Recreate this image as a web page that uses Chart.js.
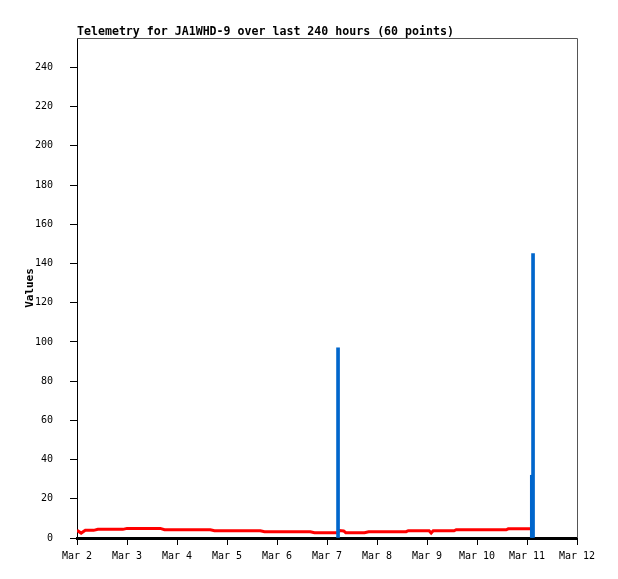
<!DOCTYPE html>
<html>
<head>
<meta charset="utf-8">
<script src="https://cdn.jsdelivr.net/npm/chart.js@4.4.1/dist/chart.umd.min.js"></script>
<style>
  html, body { margin: 0; padding: 0; background: #ffffff; }
  #wrap { width: 618px; height: 579px; }
</style>
</head>
<body>
<div id="wrap"><canvas id="c" width="618" height="579"></canvas></div>
<script>
// ---- data (hours since Mar 2 00:00) ----
const chartTitle = "Telemetry for JA1WHD-9 over last 240 hours (60 points)";
const yAxisTitle = "Values";
const dayLabels = ["Mar 2","Mar 3","Mar 4","Mar 5","Mar 6","Mar 7","Mar 8","Mar 9","Mar 10","Mar 11","Mar 12"];
const yTickValues = [0,20,40,60,80,100,120,140,160,180,200,220,240];

const redHours = [0,2,4,6,8,10,14,18,22,24,28,30,32,36,40,42,48,54,60,64,
                  66,72,78,84,88,90,96,100,102,108,112,114,120,125,126,128,129,134,138,140,
                  146,150,152,158,159,164,169,170,171,176,181,182,188,194,200,206,207,212,217,218];
const redValues = [3.9,2.5,3.9,3.9,3.9,4.4,4.4,4.4,4.4,4.9,4.9,4.9,4.9,4.9,4.9,4.2,4.2,4.2,4.2,4.2,
                   3.7,3.7,3.7,3.7,3.7,3.2,3.2,3.2,3.2,3.2,3.2,2.7,2.7,2.7,3.8,3.6,2.7,2.7,2.7,3.2,
                   3.2,3.2,3.2,3.2,3.7,3.7,3.7,2.5,3.7,3.7,3.7,4.2,4.2,4.2,4.2,4.2,4.7,4.7,4.7,4.7];

const blueHours = [125.3, 218.3, 218.9];
const blueValues = [97, 32, 145];

const redPoints = redHours.map((h, i) => ({x: h, y: redValues[i]}));
const bluePoints = blueHours.map((h, i) => ({x: h, y: blueValues[i]}));

const monoFont = "'DejaVu Sans Mono', 'Liberation Mono', monospace";

const framePlugin = {
  id: 'frame',
  afterDraw(chart) {
    const {ctx, chartArea: a} = chart;
    ctx.save();
    ctx.strokeStyle = '#555555';
    ctx.lineWidth = 1;
    ctx.beginPath();
    ctx.moveTo(a.left, a.top + 0.5);
    ctx.lineTo(a.right + 0.5, a.top + 0.5);
    ctx.lineTo(a.right + 0.5, a.bottom);
    ctx.stroke();
    ctx.fillStyle = '#000000';
    ctx.font = "bold 11.6px " + monoFont;
    ctx.textBaseline = 'alphabetic';
    ctx.textAlign = 'left';
    ctx.fillText(chartTitle, a.left, 35);
    ctx.restore();
  }
};

new Chart(document.getElementById('c'), {
  type: 'line',
  data: {
    datasets: [
      {
        type: 'bar',
        label: 'blue',
        data: bluePoints,
        backgroundColor: '#0066cc',
        borderWidth: 0,
        barThickness: 3,
        grouped: false,
        order: 1
      },
      {
        type: 'line',
        label: 'red',
        data: redPoints,
        borderColor: '#ff0000',
        backgroundColor: '#ff0000',
        borderWidth: 3,
        pointRadius: 0,
        tension: 0,
        order: 2
      }
    ]
  },
  options: {
    responsive: false,
    animation: false,
    events: [],
    layout: { padding: { top: 38, right: 41, bottom: 0, left: 0 } },
    plugins: { legend: { display: false }, title: { display: false }, tooltip: { enabled: false } },
    scales: {
      x: {
        type: 'linear',
        offset: false,
        min: 0,
        max: 240,
        afterBuildTicks(scale) { scale.ticks = dayLabels.map((l, i) => ({value: i * 24})); },
        afterFit(scale) { scale.height = 41; },
        ticks: {
          autoSkip: false,
          maxRotation: 0,
          padding: 5,
          color: '#000000',
          font: { family: monoFont, size: 10 },
          callback: (v, i) => dayLabels[i]
        },
        grid: { offset: false, drawOnChartArea: false, drawTicks: true, tickLength: 7, color: '#000000', lineWidth: 1 },
        border: { display: true, color: '#000000', width: 3 }
      },
      y: {
        type: 'linear',
        min: 0,
        max: 255,
        afterBuildTicks(scale) { scale.ticks = yTickValues.map(v => ({value: v})); },
        afterFit(scale) { scale.width = 77; },
        ticks: {
          autoSkip: false,
          padding: 17,
          color: '#000000',
          font: { family: monoFont, size: 10 },
          callback: (v) => String(v)
        },
        grid: { drawOnChartArea: false, drawTicks: true, tickLength: 7, color: '#000000', lineWidth: 1 },
        border: { display: true, color: '#000000', width: 1 },
        title: {
          display: true,
          text: yAxisTitle,
          color: '#000000',
          font: { family: monoFont, size: 11, weight: 'bold' },
          padding: { top: 24, bottom: 0 }
        }
      }
    }
  },
  plugins: [framePlugin]
});
</script>
</body>
</html>
